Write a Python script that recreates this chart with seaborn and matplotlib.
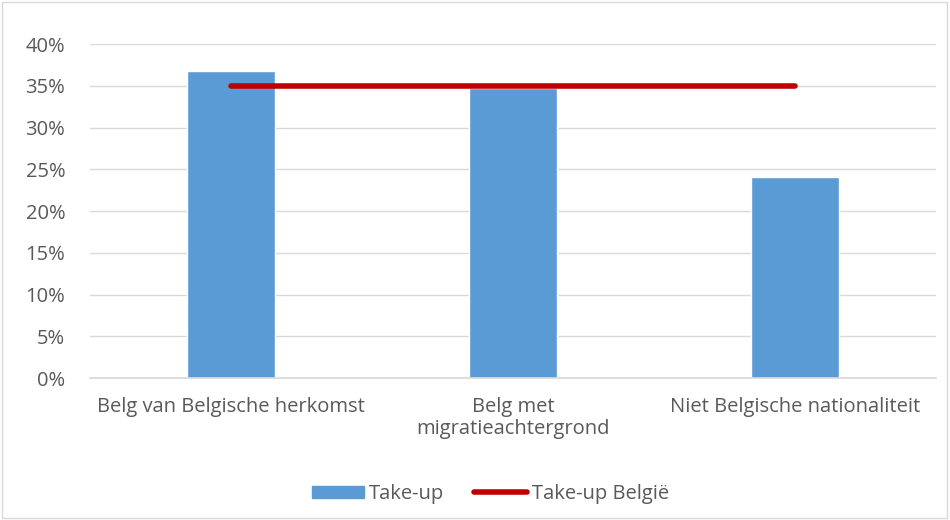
import matplotlib
matplotlib.use("Agg")
import matplotlib.pyplot as plt
import seaborn as sns
import pandas as pd
from matplotlib.ticker import PercentFormatter
from matplotlib.patches import Patch
from matplotlib.lines import Line2D

# gegevens
categories = ["Belg van Belgische herkomst", "Belg met\nmigratieachtergrond", "Niet Belgische nationaliteit"]
take_up = [0.368, 0.347, 0.241]
take_up_belgie = [0.35, 0.35, 0.35]
yticks = [0, 0.05, 0.10, 0.15, 0.20, 0.25, 0.30, 0.35, 0.40]

sns.set_theme(style="white")
plt.rcParams['font.family'] = ['Open Sans', 'DejaVu Sans']

txt = '#595959'
bar_col = '#5b9bd5'
line_col = '#c00000'
fs = 14.5

df = pd.DataFrame({'cat': categories, 'take_up': take_up, 'belgie': take_up_belgie})

fig = plt.figure(figsize=(9.5, 5.2), dpi=100)
ax = fig.add_axes([0.095, 0.273, 0.89, 0.642])

sns.barplot(data=df, x='cat', y='take_up', color=bar_col, width=0.31, saturation=1, ax=ax, zorder=2)
ax.plot(range(len(categories)), df['belgie'], color=line_col, linewidth=4, solid_capstyle='round', zorder=3)

ax.set_ylim(0, 0.40)
ax.set_xlim(-0.5, 2.5)
ax.set_yticks(yticks)
ax.yaxis.set_major_formatter(PercentFormatter(1.0, decimals=0))
ax.grid(axis='y', color='#d9d9d9', linewidth=1, zorder=0)
ax.set_axisbelow(True)
for s in ['top', 'right', 'left']:
    ax.spines[s].set_visible(False)
ax.spines['bottom'].set_color('#d9d9d9')
ax.set_xlabel('')
ax.set_ylabel('')
ax.tick_params(axis='both', colors=txt, labelsize=fs, length=0)
ax.tick_params(axis='x', pad=14)
ax.tick_params(axis='y', pad=18)
for lbl in ax.get_xticklabels():
    lbl.set_linespacing(1.1)

handles = [Patch(color=bar_col, label='Take-up'),
           Line2D([0], [0], color=line_col, linewidth=4, solid_capstyle='round', label='Take-up België')]
fig.legend(handles=handles, loc='center', bbox_to_anchor=(0.516, 0.05), ncol=2, frameon=False,
           fontsize=fs, labelcolor=txt, handlelength=2.6, handletextpad=0.25, columnspacing=1.5,
           handleheight=0.6)

fig.patches.append(plt.Rectangle((0.002, 0.003), 0.995, 0.993, transform=fig.transFigure,
                                 fill=False, edgecolor='#d9d9d9', linewidth=1))

fig.savefig('out.png', dpi=100)
